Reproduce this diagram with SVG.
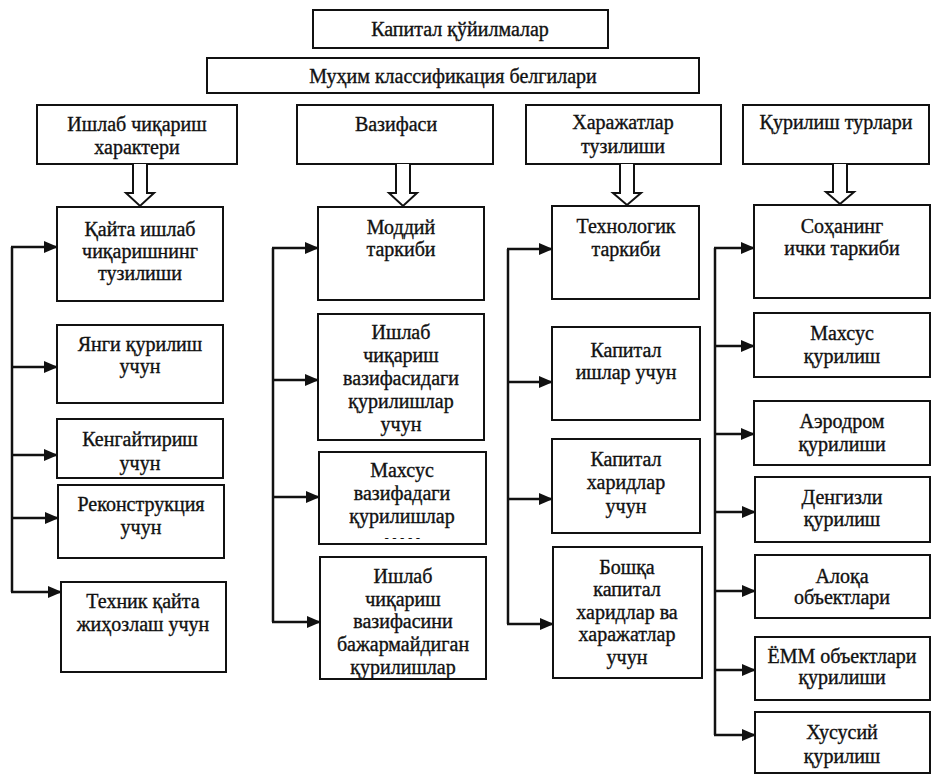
<svg xmlns="http://www.w3.org/2000/svg" width="932" height="774" viewBox="0 0 932 774">
<defs>
<style>
.box{fill:#fff;stroke:#111;stroke-width:2}
.t{font-family:"Liberation Serif","Times New Roman",serif;font-size:20px;fill:#111;stroke:#111;stroke-width:0.35;text-anchor:middle}
.d{font-family:"Liberation Serif","Times New Roman",serif;font-size:13px;fill:#111;text-anchor:middle;letter-spacing:3.5px}
.c{fill:none;stroke:#111;stroke-width:2.5}
.h{fill:#fff;stroke:#111;stroke-width:2;stroke-linejoin:miter}
</style>
<marker id="ah" markerUnits="userSpaceOnUse" markerWidth="14" markerHeight="12" refX="13" refY="6" orient="auto">
<path d="M0,0 L14,6 L0,12 Z" fill="#111"/>
</marker>
</defs>
<rect width="932" height="774" fill="#fff"/>

<g id="top">
<rect class="box" x="313" y="10" width="295" height="38"/>
<text class="t" x="460" y="36">Капитал қўйилмалар</text>
</g>
<g id="signs">
<rect class="box" x="207" y="58" width="492" height="35"/>
<text class="t" x="453" y="83">Муҳим классификация белгилари</text>
</g>

<g id="h1">
<rect class="box" x="37" y="105" width="200" height="59"/>
<text class="t" x="137" y="131">Ишлаб чиқариш</text>
<text class="t" x="137" y="154">характери</text>
</g>
<g id="h2">
<rect class="box" x="297" y="105" width="196" height="59"/>
<text class="t" x="396" y="131">Вазифаси</text>
</g>
<g id="h3">
<rect class="box" x="526" y="105" width="195" height="59"/>
<text class="t" x="623" y="129">Харажатлар</text>
<text class="t" x="623" y="153">тузилиши</text>
</g>
<g id="h4">
<rect class="box" x="743" y="105" width="186" height="59"/>
<text class="t" x="836" y="129">Қурилиш турлари</text>
</g>

<g id="c1a"><rect class="box" x="57" y="207" width="166" height="94"/>
<text class="t" x="140" y="236">Қайта ишлаб</text><text class="t" x="140" y="258">чиқаришнинг</text><text class="t" x="140" y="280">тузилиши</text></g>
<g id="c1b"><rect class="box" x="57" y="325" width="166" height="78"/>
<text class="t" x="140" y="351">Янги қурилиш</text><text class="t" x="140" y="373">учун</text></g>
<g id="c1c"><rect class="box" x="57" y="419" width="166" height="59"/>
<text class="t" x="140" y="446">Кенгайтириш</text><text class="t" x="140" y="470">учун</text></g>
<g id="c1d"><rect class="box" x="58" y="485" width="166" height="73"/>
<text class="t" x="141" y="511">Реконструкция</text><text class="t" x="141" y="534">учун</text></g>
<g id="c1e"><rect class="box" x="61" y="582" width="165" height="90"/>
<text class="t" x="143" y="608">Техник қайта</text><text class="t" x="143" y="631">жиҳозлаш учун</text></g>

<g id="c2a"><rect class="box" x="318" y="207" width="166" height="93"/>
<text class="t" x="401" y="234">Моддий</text><text class="t" x="401" y="256">таркиби</text></g>
<g id="c2b"><rect class="box" x="318" y="314" width="166" height="126"/>
<text class="t" x="401" y="339">Ишлаб</text><text class="t" x="401" y="362">чиқариш</text><text class="t" x="401" y="385">вазифасидаги</text><text class="t" x="401" y="408">қурилишлар</text><text class="t" x="401" y="431">учун</text></g>
<g id="c2c"><rect class="box" x="319" y="452" width="167" height="92"/>
<text class="t" x="402" y="477">Махсус</text><text class="t" x="402" y="500">вазифадаги</text><text class="t" x="402" y="523">қурилишлар</text><text class="d" x="404" y="542">-----</text></g>
<g id="c2d"><rect class="box" x="320" y="557" width="166" height="122"/>
<text class="t" x="403" y="583">Ишлаб</text><text class="t" x="403" y="606">чиқариш</text><text class="t" x="403" y="628">вазифасини</text><text class="t" x="403" y="651">бажармайдиган</text><text class="t" x="403" y="674">қурилишлар</text></g>

<g id="c3a"><rect class="box" x="552" y="206" width="147" height="93"/>
<text class="t" x="626" y="233">Технологик</text><text class="t" x="626" y="256">таркиби</text></g>
<g id="c3b"><rect class="box" x="552" y="327" width="148" height="93"/>
<text class="t" x="626" y="357">Капитал</text><text class="t" x="626" y="379">ишлар учун</text></g>
<g id="c3c"><rect class="box" x="552" y="439" width="148" height="94"/>
<text class="t" x="626" y="466">Капитал</text><text class="t" x="626" y="489">харидлар</text><text class="t" x="626" y="513">учун</text></g>
<g id="c3d"><rect class="box" x="553" y="547" width="149" height="131"/>
<text class="t" x="627" y="574">Бошқа</text><text class="t" x="627" y="596">капитал</text><text class="t" x="627" y="619">харидлар ва</text><text class="t" x="627" y="641">харажатлар</text><text class="t" x="627" y="664">учун</text></g>

<g id="c4a"><rect class="box" x="754" y="205" width="176" height="93"/>
<text class="t" x="842" y="233">Соҳанинг</text><text class="t" x="842" y="255">ички таркиби</text></g>
<g id="c4b"><rect class="box" x="754" y="313" width="176" height="64"/>
<text class="t" x="842" y="340">Махсус</text><text class="t" x="842" y="363">қурилиш</text></g>
<g id="c4c"><rect class="box" x="754" y="401" width="176" height="64"/>
<text class="t" x="842" y="428">Аэродром</text><text class="t" x="842" y="451">қурилиши</text></g>
<g id="c4d"><rect class="box" x="755" y="477" width="175" height="65"/>
<text class="t" x="842" y="504">Денгизли</text><text class="t" x="842" y="526">қурилиш</text></g>
<g id="c4e"><rect class="box" x="755" y="555" width="175" height="63"/>
<text class="t" x="842" y="583">Алоқа</text><text class="t" x="842" y="604">объектлари</text></g>
<g id="c4f"><rect class="box" x="755" y="637" width="175" height="63"/>
<text class="t" x="842" y="663">ЁММ объектлари</text><text class="t" x="842" y="684">қурилиши</text></g>
<g id="c4g"><rect class="box" x="755" y="712" width="175" height="61"/>
<text class="t" x="842" y="739">Хусусий</text><text class="t" x="842" y="763">қурилиш</text></g>

<g id="connectors">
<path class="h" d="M133,164 V193 H126 L140,206 L154,193 H147 V164"/>
<path class="h" d="M396,164 V193 H389 L403,206 L417,193 H410 V164"/>
<path class="h" d="M620,164 V193 H613 L627,205 L641,193 H634 V164"/>
<path class="h" d="M833,164 V192 H826 L840,204 L854,192 H847 V164"/>

<path class="c" d="M12,247 V592"/>
<path class="c" d="M11,247 H57" marker-end="url(#ah)"/>
<path class="c" d="M12,367 H57" marker-end="url(#ah)"/>
<path class="c" d="M12,455 H57" marker-end="url(#ah)"/>
<path class="c" d="M12,518 H58" marker-end="url(#ah)"/>
<path class="c" d="M11,592 H61" marker-end="url(#ah)"/>

<path class="c" d="M273,248 V622"/>
<path class="c" d="M272,248 H318" marker-end="url(#ah)"/>
<path class="c" d="M273,380 H318" marker-end="url(#ah)"/>
<path class="c" d="M273,497 H319" marker-end="url(#ah)"/>
<path class="c" d="M272,622 H320" marker-end="url(#ah)"/>

<path class="c" d="M508,249 V624"/>
<path class="c" d="M507,249 H552" marker-end="url(#ah)"/>
<path class="c" d="M508,382 H552" marker-end="url(#ah)"/>
<path class="c" d="M508,499 H552" marker-end="url(#ah)"/>
<path class="c" d="M507,624 H553" marker-end="url(#ah)"/>

<path class="c" d="M715,248 V735"/>
<path class="c" d="M714,248 H754" marker-end="url(#ah)"/>
<path class="c" d="M715,346 H754" marker-end="url(#ah)"/>
<path class="c" d="M715,434 H754" marker-end="url(#ah)"/>
<path class="c" d="M715,512 H755" marker-end="url(#ah)"/>
<path class="c" d="M715,591 H755" marker-end="url(#ah)"/>
<path class="c" d="M715,670 H755" marker-end="url(#ah)"/>
<path class="c" d="M714,735 H755" marker-end="url(#ah)"/>
</g>
</svg>
